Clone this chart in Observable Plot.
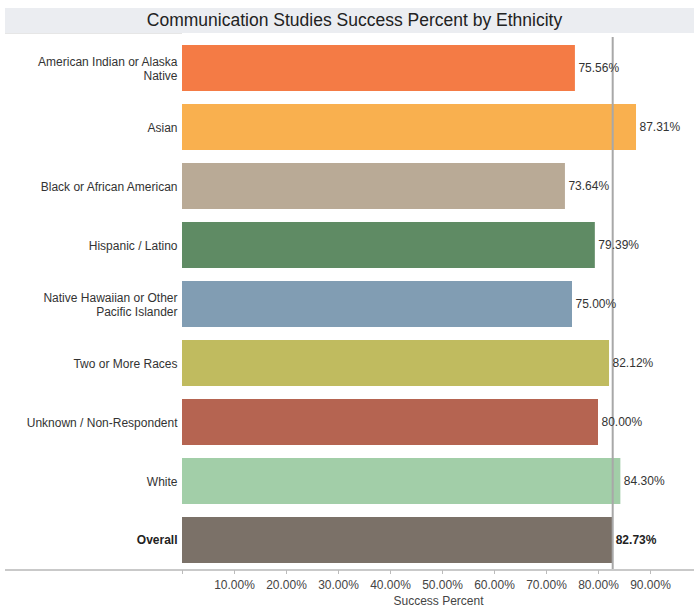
<!DOCTYPE html>
<html>
<head>
<meta charset="utf-8">
<script src="https://cdn.jsdelivr.net/npm/d3@7"></script>
<script src="https://cdn.jsdelivr.net/npm/@observablehq/plot@0.6"></script>
<style>
  html, body { margin: 0; padding: 0; background: #fff; }
  body { width: 694px; height: 607px; overflow: hidden; font-family: "Liberation Sans", Arial, sans-serif; }
  #title { margin: 8px 0 0 5px; width: 679px; padding-left: 10px; height: 25px; line-height: 25px; background: #ebedf1;
           text-align: center; font-size: 17.5px; color: #222; }
  #chart svg { display: block; }
</style>
</head>
<body>
<div id="title">Communication Studies Success Percent by Ethnicity</div>
<div id="chart"></div>
<script>
const categories = [
  "American Indian or Alaska Native",
  "Asian",
  "Black or African American",
  "Hispanic / Latino",
  "Native Hawaiian or Other Pacific Islander",
  "Two or More Races",
  "Unknown / Non-Respondent",
  "White",
  "Overall"
];
const labels = [
  "American Indian or Alaska\nNative",
  "Asian",
  "Black or African American",
  "Hispanic / Latino",
  "Native Hawaiian or Other\nPacific Islander",
  "Two or More Races",
  "Unknown / Non-Respondent",
  "White",
  "Overall"
];
const values = [0.7556, 0.8731, 0.7364, 0.7939, 0.7500, 0.8212, 0.8000, 0.8430, 0.8273];
const colors = ["#f47b45", "#f9b04f", "#b9aa96", "#5f8b64", "#819db3", "#c0bb5f", "#b56451", "#a2cea8", "#7b7168"];
const xTicks = [0, 0.1, 0.2, 0.3, 0.4, 0.5, 0.6, 0.7, 0.8, 0.9];
const overallValue = values[values.length - 1];

const data = categories.map((c, i) => ({cat: c, label: labels[i], value: values[i], color: colors[i]}));
const normal = data.filter(d => d.cat !== "Overall");
const overall = data.filter(d => d.cat === "Overall");

const W = 694, H = 574, ML = 182, MR = 0, MT = 4, MB = 37;

// light border lines of the label pane + axis baseline, drawn from the chart dimensions
const paneLines = (index, scales, values, dims) => {
  const g = d3.create("svg:g");
  const yb = dims.height - dims.marginBottom;
  g.append("line").attr("x1", 5).attr("x2", dims.width).attr("y1", yb).attr("y2", yb)
    .attr("stroke", "#c9c9c9").attr("stroke-width", 2);
  g.append("line").attr("x1", 5).attr("x2", dims.marginLeft).attr("y1", 0.5).attr("y2", 0.5)
    .attr("stroke", "#e6e6e6").attr("stroke-width", 1);
  return g.node();
};

const chart = Plot.plot({
  width: W,
  height: H,
  marginLeft: ML,
  marginRight: MR,
  marginTop: MT,
  marginBottom: MB,
  style: {fontFamily: "'Liberation Sans', Arial, sans-serif", background: "#fff"},
  x: {domain: [0, (W - ML - MR) / 520], axis: null},
  y: {domain: categories, paddingInner: 0.225, paddingOuter: 0.084, axis: null},
  marks: [
    Plot.ruleX([0], {stroke: "#e3e3e3", strokeWidth: 1, y1: null}),
    Plot.barX(data, {y: "cat", x: "value", fill: "color"}),
    Plot.ruleX([overallValue], {stroke: "#a8a8a8", strokeWidth: 2}),
    paneLines,
    Plot.text(normal, {y: "cat", x: "value", text: d => d3.format(".2%")(d.value), textAnchor: "start", dx: 3, fontSize: 12, fill: "#333"}),
    Plot.text(overall, {y: "cat", x: "value", text: d => d3.format(".2%")(d.value), textAnchor: "start", dx: 3, fontSize: 12, fill: "#222", fontWeight: "bold"}),
    Plot.text(normal, {y: "cat", x: 0, text: "label", textAnchor: "end", dx: -5, fontSize: 12, fill: "#333", lineHeight: 1.15}),
    Plot.text(overall, {y: "cat", x: 0, text: "label", textAnchor: "end", dx: -5, fontSize: 12, fill: "#222", fontWeight: "bold"}),
    Plot.axisX({
      ticks: xTicks,
      tickFormat: d => d === 0 ? "" : d3.format(".2%")(d),
      tickSize: 4,
      tickPadding: 6,
      stroke: "#bbb",
      fill: "#444",
      fontSize: 12,
      label: "Success Percent",
      labelAnchor: "center",
      labelArrow: "none",
      labelOffset: 34
    })
  ]
});
document.getElementById("chart").appendChild(chart);
</script>
</body>
</html>
